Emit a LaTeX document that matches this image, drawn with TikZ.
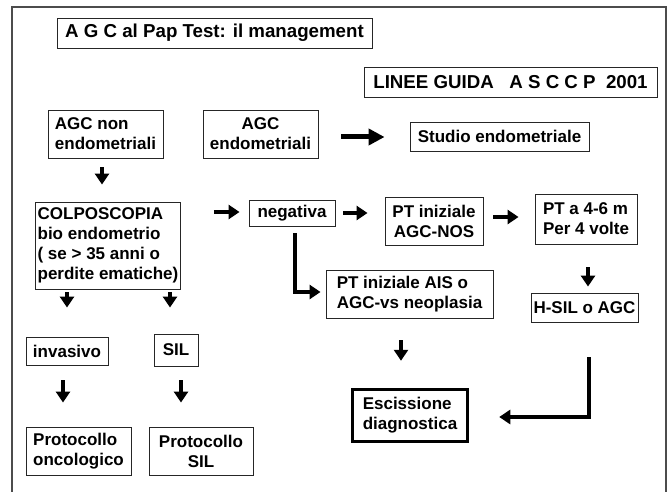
\documentclass[tikz,border=0pt]{standalone}
\usepackage{fontspec}
\setmainfont{Liberation Sans}
\usetikzlibrary{arrows.meta,calc}
\begin{document}
\begin{tikzpicture}[x=1pt,y=-1pt,
  box/.style={draw=black!85,line width=0.9pt,inner sep=2pt,font=\bfseries\fontsize{17}{20}\selectfont},
  bigbox/.style={box,font=\bfseries\fontsize{18.7}{22}\selectfont},
  blk/.style={line width=4.5pt,line join=miter,-{Triangle[length=11pt,width=14pt]}},
  bigblk/.style={line width=5pt,-{Triangle[length=16pt,width=16pt]}}]
\useasboundingbox (0,0) rectangle (672,492);
\draw[black!70,line width=2pt] (12,7) rectangle (666,500);
% boxes
\node[bigbox,minimum width=315pt,minimum height=30pt] (title) at (214.5,33) {A G C al Pap Test: il management};
\node[bigbox,minimum width=293pt,minimum height=30pt] (linee) at (510.5,82) {LINEE GUIDA\ \ \ A S C C P\ \ 2001};
\node[box,minimum width=115pt,minimum height=48pt,align=left] (agcnon) at (105.5,134) {AGC non\\endometriali};
\node[box,minimum width=115pt,minimum height=48pt,align=center] (agcendo) at (260.5,134) {AGC\\endometriali};
\node[box,minimum width=179pt,minimum height=29pt] (studio) at (499.5,136.5) {Studio endometriale};
\node[box,minimum width=144pt,minimum height=87pt,align=left] (colpo) at (108,245.5) {COLPOSCOPIA\\bio endometrio\\( se > 35 anni o\\perdite ematiche)};
\node[box,minimum width=86pt,minimum height=26pt] (negativa) at (292,213) {negativa};
\node[box,minimum width=98pt,minimum height=48pt,align=center] (ptagcnos) at (434,221) {PT iniziale\\AGC-NOS};
\node[box,minimum width=102pt,minimum height=50pt,align=left] (pt46) at (586,219) {PT a 4-6 m\\Per 4 volte};
\node[box,minimum width=167pt,minimum height=48pt,align=left] (ptais) at (409.5,294) {PT iniziale AIS o\\AGC-vs neoplasia};
\node[box,minimum width=107pt,minimum height=29pt] (hsil) at (584.5,307.5) {H-SIL o AGC};
\node[box,minimum width=82pt,minimum height=28pt] (invasivo) at (67,351) {invasivo};
\node[box,minimum width=44pt,minimum height=32pt] (sil) at (176,350) {SIL};
\node[box,minimum width=105pt,minimum height=48pt,align=left] (protonc) at (78.5,451) {Protocollo\\oncologico};
\node[box,minimum width=104pt,minimum height=48pt,align=center] (protsil) at (201,451) {Protocollo\\SIL};
\node[box,draw=black,line width=3.5pt,minimum width=115pt,minimum height=52pt,align=left] (esc) at (410,415.5) {Escissione\\diagnostica};
% arrows
\draw[bigblk] ($(agcendo.east)+(23,3)$) -- ($(studio.west)+(-25,0.5)$);
\draw[blk] ($(agcnon.south)+(-3.5,9)$) -- ($(colpo.north)+(-6,-17)$);
\draw[blk] ($(colpo.east)+(33,-33.5)$) -- ($(negativa.west)+(-9,-1)$);
\draw[blk] ($(negativa.east)+(8,0)$) -- ($(ptagcnos.west)+(-17,-8)$);
\draw[blk] ($(ptagcnos.east)+(10,-4)$) -- ($(pt46.west)+(-16,-2)$);
\draw[blk] ($(pt46.south)+(2,23)$) -- ($(hsil.north)+(3.5,-6)$);
\draw[blk] ($(negativa.south)+(3,7)$) |- ($(ptais.west)+(-5,-2)$);
\draw[blk] ($(ptais.south)+(-8.5,22)$) -- ($(esc.north)+(-9,-27)$);
\draw[blk] ($(hsil.south)+(4.5,35)$) |- ($(esc.east)+(30,1.5)$);
\draw[blk] ($(colpo.south)+(-41,3)$) -- ($(invasivo.north)+(0,-29)$);
\draw[blk] ($(colpo.south)+(62,3)$) -- ($(sil.north)+(-6,-26)$);
\draw[blk] ($(invasivo.south)+(-4,15)$) -- ($(protonc.north)+(-15.5,-24)$);
\draw[blk] ($(sil.south)+(5,14)$) -- ($(protsil.north)+(-20,-24)$);
\end{tikzpicture}
\end{document}
